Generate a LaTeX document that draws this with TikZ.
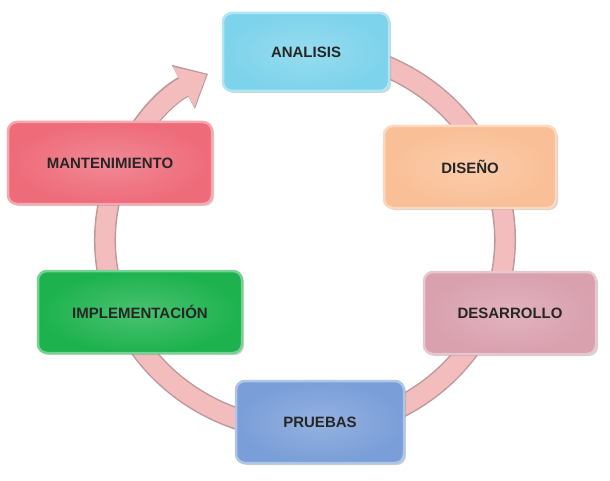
\documentclass[tikz,border=0pt]{standalone}
\usepackage{fontspec}
\setmainfont{Liberation Sans}
\usetikzlibrary{arrows.meta,shadows}
\begin{document}
\begin{tikzpicture}[x=1pt,y=1pt,
  phase/.style={draw=#1!60!white,line width=2.5pt,rounded corners=9pt,
    inner color=#1!80!white,outer color=#1,
    drop shadow={opacity=0.35,shadow xshift=2pt,shadow yshift=-2pt},
    font=\bfseries\fontsize{15}{18}\selectfont,text=black!85,align=center}]
\useasboundingbox (0,0) rectangle (610,480);
\definecolor{cA}{HTML}{7DD3EB}
\definecolor{cD}{HTML}{F9BF96}
\definecolor{cR}{HTML}{D9A0AE}
\definecolor{cP}{HTML}{7A9ED8}
\definecolor{cI}{HTML}{1DB24E}
\definecolor{cM}{HTML}{EE6B7A}
\definecolor{ring}{HTML}{F4BDBD}
% ring arrow
\draw[ring!75!black!90,line width=22pt,-{Triangle[width=48pt,length=28pt]}]
  (305,240) ++(80:200 and 190) arc[start angle=80,end angle=-241,x radius=200,y radius=190];
\draw[ring,line width=19pt,-{Triangle[width=44pt,length=26pt]}]
  (305,240) ++(80:200 and 190) arc[start angle=80,end angle=-240.5,x radius=200,y radius=190];
% boxes
\node[phase=cA,minimum width=166pt,minimum height=78pt] (ana) at (306,428) {ANALISIS};
\node[phase=cD,minimum width=172pt,minimum height=82pt] (dis) at (470,313) {DISEÑO};
\node[phase=cR,minimum width=172pt,minimum height=82pt] (des) at (510,167) {DESARROLLO};
\node[phase=cP,minimum width=168pt,minimum height=82pt] (pru) at (320,58) {PRUEBAS};
\node[phase=cI,minimum width=204pt,minimum height=82pt] (imp) at (140,168) {IMPLEMENTACIÓN};
\node[phase=cM,minimum width=204pt,minimum height=82pt] (man) at (110,317) {MANTENIMIENTO};
\end{tikzpicture}
\end{document}
